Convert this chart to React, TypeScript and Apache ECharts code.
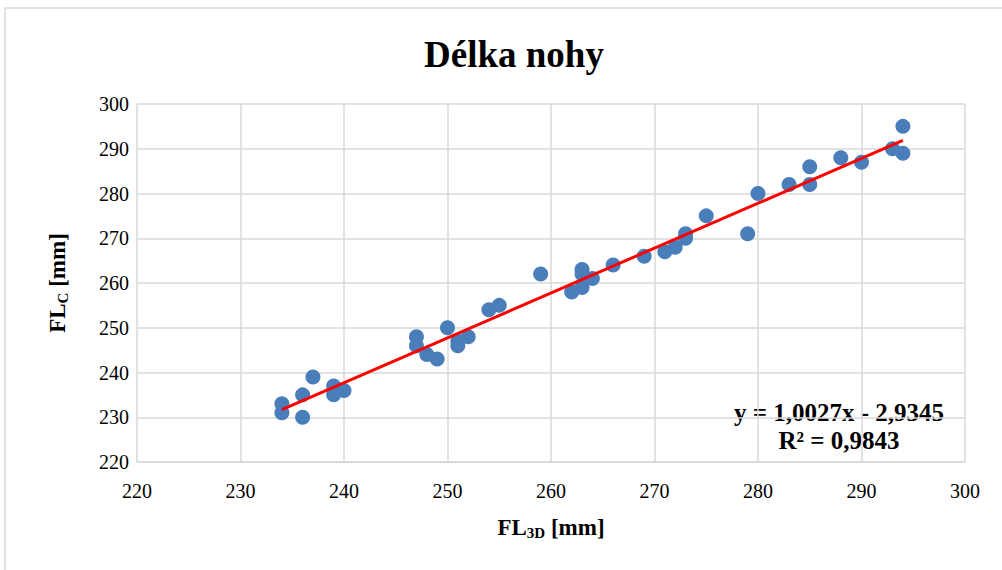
import React, { useEffect, useRef } from "react";
import * as echarts from "echarts";

const titleText = "Délka nohy";
const fl3d = [234, 234, 236, 236, 237, 239, 239, 240, 247, 247, 248, 249, 250, 251, 251, 252, 254, 255, 259, 262, 263, 263, 263, 264, 266, 269, 271, 272, 273, 273, 275, 279, 280, 283, 285, 285, 288, 290, 293, 294, 294];
const flc = [233, 231, 235, 230, 239, 237, 235, 236, 248, 246, 244, 243, 250, 247, 246, 248, 254, 255, 262, 258, 263, 262, 259, 261, 264, 266, 267, 268, 271, 270, 275, 271, 280, 282, 286, 282, 288, 287, 290, 295, 289];
const slope = 1.0027;
const intercept = -2.9345;
const eqText = "y = 1,0027x - 2,9345";
const r2Text = "R² = 0,9843";
const xMin = 220, xMax = 300, yMin = 220, yMax = 300, step = 10;

export default function App() {
  const ref = useRef<HTMLDivElement>(null);
  useEffect(() => {
    document.body.style.margin = "0";
    const chart = echarts.init(ref.current!, undefined, { renderer: "svg" });
    const pts = fl3d.map((x, i) => [x, flc[i]]);
    const lo = Math.min(...fl3d), hi = Math.max(...fl3d);
    const trend = [[lo, slope * lo + intercept], [hi, slope * hi + intercept]];
    const font = "'Liberation Serif', 'Times New Roman', serif";
    const grid = "#d9d9d9";
    const rich = {
      a: { fontFamily: font, fontSize: 23, fontWeight: "bold", color: "#000", lineHeight: 28 },
      s: { fontFamily: font, fontSize: 15, fontWeight: "bold", color: "#000", lineHeight: 16, padding: [12, 0, 0, 0] },
    };
    chart.setOption({
      animation: false,
      backgroundColor: "#fff",
      textStyle: { fontFamily: font },
      title: {
        text: titleText,
        left: 419,
        top: 31,
        textStyle: { fontFamily: font, fontSize: 37, fontWeight: "bold", color: "#000" },
      },
      grid: { left: 137, right: 37, top: 104, bottom: 108 },
      xAxis: {
        type: "value",
        min: xMin, max: xMax, interval: step,
        axisLine: { show: true, lineStyle: { color: grid, width: 1.5 } },
        axisTick: { show: false },
        splitLine: { show: true, lineStyle: { color: grid, width: 1.5 } },
        axisLabel: { fontFamily: font, fontSize: 20, color: "#000", margin: 19 },
        name: "{a|FL}{s|3D}{a| [mm]}",
        nameLocation: "middle",
        nameGap: 51,
        nameTextStyle: { rich },
      },
      yAxis: {
        type: "value",
        min: yMin, max: yMax, interval: step,
        axisLine: { show: false },
        axisTick: { show: false },
        splitLine: { show: true, lineStyle: { color: grid, width: 1.5 } },
        axisLabel: { fontFamily: font, fontSize: 20, color: "#000", margin: 8 },
        name: "{a|FL}{s|C}{a| [mm]}",
        nameLocation: "middle",
        nameGap: 66,
        nameRotate: 90,
        nameTextStyle: { rich },
      },
      series: [
        {
          type: "scatter",
          data: pts,
          symbol: "circle",
          symbolSize: 15,
          itemStyle: { color: "#4a7ebb", opacity: 1 },
          z: 2,
        },
        {
          type: "line",
          data: trend,
          showSymbol: false,
          lineStyle: { color: "#ff0000", width: 3 },
          z: 3,
        },
      ],
      graphic: [
        { type: "rect", shape: { x: 5, y: 8, width: 1100, height: 700 }, style: { fill: "none", stroke: "#d9d9d9", lineWidth: 1.5 }, silent: true, z: -10 },
        { type: "text", x: 839, y: 412, style: { text: eqText, fontFamily: font, fontSize: 25, fontWeight: "bold", fill: "#000", align: "center", verticalAlign: "middle" } },
        { type: "text", x: 839, y: 440, style: { text: r2Text, fontFamily: font, fontSize: 25, fontWeight: "bold", fill: "#000", align: "center", verticalAlign: "middle" } },
      ],
    });
    return () => chart.dispose();
  }, []);
  return <div ref={ref} style={{ width: 1002, height: 570 }} />;
}
